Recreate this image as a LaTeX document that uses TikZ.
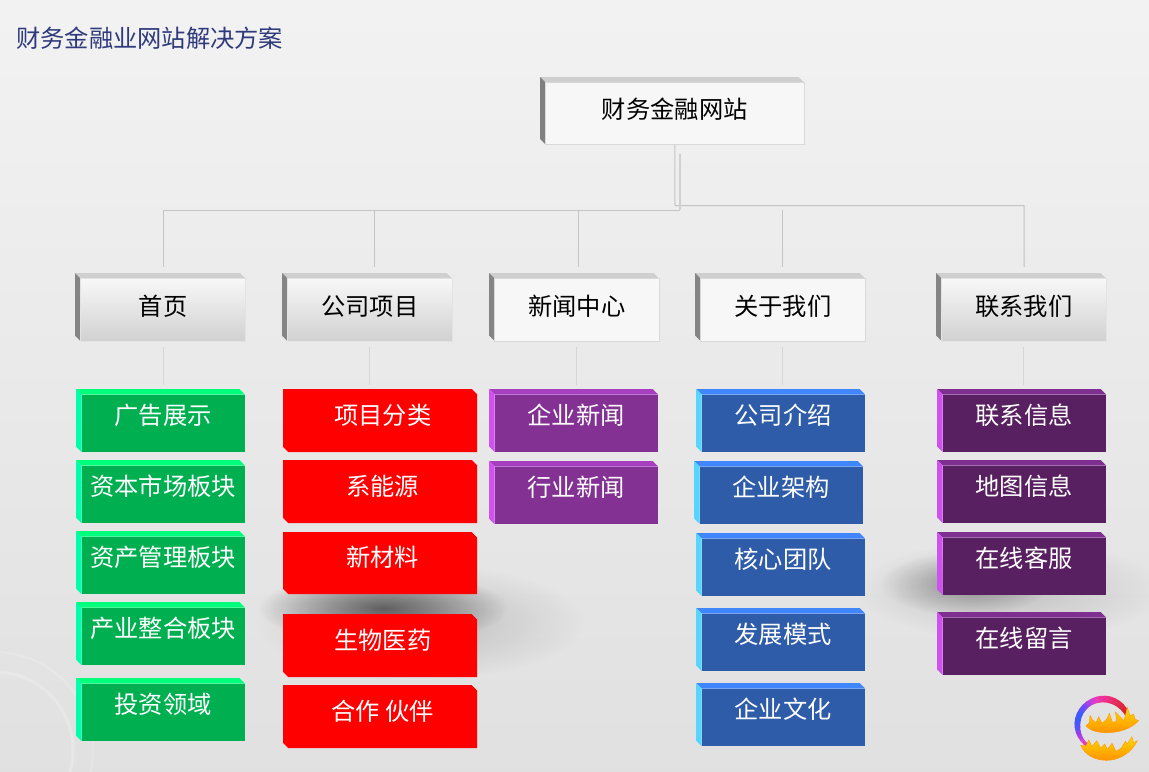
\documentclass[tikz,border=0pt]{standalone}
\usepackage{fontspec}
\setmainfont{Noto Sans CJK SC}
\usetikzlibrary{fadings}
\tikzfading[name=blob, inner color=transparent!0, outer color=transparent!100]
\definecolor{titlecol}{HTML}{2F3A7C}
\definecolor{linecol}{HTML}{C4C4C4}
\definecolor{stubcol}{HTML}{D6D6D6}
\definecolor{gF}{HTML}{00B050}\definecolor{gT}{HTML}{00FF7A}\definecolor{gL}{HTML}{00FFAA}
\definecolor{pF}{HTML}{833193}\definecolor{pT}{HTML}{A63FC0}\definecolor{pL}{HTML}{D050F0}
\definecolor{bF}{HTML}{2E5CA8}\definecolor{bT}{HTML}{3F86FF}\definecolor{bL}{HTML}{55D5FF}
\definecolor{dF}{HTML}{582060}\definecolor{dT}{HTML}{7F2F90}\definecolor{dL}{HTML}{D050F0}
\definecolor{fA}{HTML}{D8262E}\definecolor{fB}{HTML}{F0308C}\definecolor{fC}{HTML}{E040D0}
\definecolor{fD}{HTML}{9040F0}\definecolor{fE}{HTML}{3A5CFF}\definecolor{fF}{HTML}{4A70F0}
\tikzset{
  conn/.style={draw=linecol, line width=0.75pt},
  connthick/.style={draw=linecol!80, line width=1.1pt},
  stub/.style={draw=stubcol, line width=0.75pt},
  boxlabel/.style={font=\fontsize{18.2}{20}\selectfont, inner sep=0pt, outer sep=0pt},
  gface/.style={fill=gF},
  rface/.style={},
  pface/.style={fill=pF},
  bface/.style={fill=bF},
  dface/.style={fill=dF},
  greyflat/.style={fill=white!97!black, draw=black!15, line width=0.6pt},
  greygrad/.style={top color=white!97!black, bottom color=black!18, draw=black!11, line width=0.5pt},
  flame/.style={top color=yellow!70!orange, middle color=yellow!95!orange, bottom color=orange!85!yellow, draw=orange!80!yellow, line width=0.3pt},
}
\newcommand{\bevel}[9]{%
  \def\bvN{#1}\def\bvXa{#2}\def\bvYa{#3}\def\bvXb{#4}\def\bvYb{#5}%
  \def\bvFace{#6}\def\bvTop{#7}\def\bvLeft{#8}\def\bvTxt{#9}\bevelrest}
\newcommand{\bevelrest}[2]{%
  \pgfmathsetmacro{\bvD}{5.5}%
  \pgfmathsetmacro{\bvCx}{(\bvXa+\bvD+\bvXb)/2}%
  \pgfmathsetmacro{\bvCy}{(\bvYa+\bvD+\bvYb)/2}%
  \pgfmathsetmacro{\bvW}{(\bvXb-\bvXa-\bvD)*0.75}%
  \pgfmathsetmacro{\bvH}{(\bvYb-\bvYa-\bvD)*0.75}%
  \pgfmathsetmacro{\bvR}{#1*0.75}%
  \fill[\bvTop] (\bvXa,\bvYa) -- (\bvXb-\bvD,\bvYa) -- (\bvXb,\bvYa+\bvD) -- (\bvXa+\bvD,\bvYa+\bvD) -- cycle;
  \fill[\bvLeft] (\bvXa,\bvYa) -- (\bvXa+\bvD,\bvYa+\bvD) -- (\bvXa+\bvD,\bvYb) -- (\bvXa,\bvYb-\bvD) -- cycle;
  \node[boxlabel, minimum width=\bvW pt, minimum height=\bvH pt, text=\bvTxt, \bvFace] (\bvN) at (\bvCx,\bvCy) {\raisebox{\bvR pt}{#2}};
}
\begin{document}
\begin{tikzpicture}[x=0.75pt,y=-0.75pt]
\useasboundingbox (0,0) rectangle (1149,771);
% background
\shade[shading=axis, shading angle=135, top color=white!95!black, bottom color=white!88!black] (0,0) rectangle (1149,771);
\begin{scope}
\clip (0,0) rectangle (1149,771);
\draw[white, opacity=0.16, line width=1.6pt] (-5,750) circle [radius=98];
\draw[white, opacity=0.2, line width=2.4pt] (-5,750) circle [radius=78];
% soft shadows
\fill[black, opacity=0.52, path fading=blob] (383,608) ellipse [x radius=125, y radius=36];
\fill[black, opacity=0.17, path fading=blob] (420,622) ellipse [x radius=165, y radius=58];
\fill[black, opacity=0.3, path fading=blob] (965,584) ellipse [x radius=85, y radius=32];
\fill[black, opacity=0.15, path fading=blob] (1010,590) ellipse [x radius=155, y radius=50];
\end{scope}
% title
\node[font=\fontsize{18.2}{20}\selectfont, text=titlecol, inner sep=0pt, anchor=west] (title) at (16,38) {财务金融业网站解决方案};
% level 0 and 1
\bevel{root}{540}{77}{804}{144.5}{greyflat}{black!19}{black!50}{black}{11}{财务金融网站}
\bevel{aA}{75}{273}{245.5}{341}{greygrad}{black!19}{black!48}{black}{8}{首页}
\bevel{aB}{282}{273}{452}{341}{greygrad}{black!19}{black!48}{black}{8}{公司项目}
\bevel{aC}{489}{273}{659}{341}{greyflat}{black!19}{black!48}{black}{8}{新闻中心}
\bevel{aD}{695}{273}{865}{341}{greyflat}{black!19}{black!48}{black}{8}{关于我们}
\bevel{aE}{936}{273}{1106}{341}{greygrad}{black!19}{black!48}{black}{8}{联系我们}
% connector ends
\coordinate (rootb) at (680,154);
\coordinate (jA) at (680,210);
\coordinate (jB) at (675,205.5);
\coordinate (tA) at (163.5,267);
\coordinate (tB) at (374.5,267);
\coordinate (tC) at (578,267);
\coordinate (tD) at (782.5,267);
\coordinate (tE) at (1024,267);
\draw[conn] (root.south) -- (jB) -- (jB -| tE) -- (tE);
\draw[connthick] (rootb) -- (jA);
\draw[conn] (jA) -- (jA -| tA) -- (tA);
\draw[conn] (jA -| tB) -- (tB);
\draw[conn] (jA -| tC) -- (tC);
\draw[conn] (jA -| tD) -- (tD);
% green column
\bevel{gA}{76}{389}{245}{452}{gface}{gT}{gL}{white}{18}{广告展示}
\bevel{gB}{76}{460}{245}{523}{gface}{gT}{gL}{white}{18}{资本市场板块}
\bevel{gC}{76}{531}{245}{594}{gface}{gT}{gL}{white}{18}{资产管理板块}
\bevel{gD}{76}{602}{245}{665}{gface}{gT}{gL}{white}{18}{产业整合板块}
\bevel{gE}{76}{678}{245}{741}{gface}{gT}{gL}{white}{18}{投资领域}
% red column: one chamfered shape under each label
\foreach \ya/\yb in {389/452,460/523,532/594,614/677,685/748}{
  \fill[red] (283,\ya) -- (471.5,\ya) -- (477,\ya+5.5) -- (477,\yb) -- (288.5,\yb) -- (283,\yb-5.5) -- cycle;
}
\bevel{rA}{283}{389}{477}{452}{rface}{red}{red}{white}{18}{项目分类}
\bevel{rB}{283}{460}{477}{523}{rface}{red}{red}{white}{18}{系能源}
\bevel{rC}{283}{532}{477}{594}{rface}{red}{red}{white}{18}{新材料}
\bevel{rD}{283}{614}{477}{677}{rface}{red}{red}{white}{18}{生物医药}
\bevel{rE}{283}{685}{477}{748}{rface}{red}{red}{white}{18}{合作 伙伴}
% news column
\bevel{pA}{489}{389}{658}{452}{pface}{pT}{pL}{white}{18}{企业新闻}
\bevel{pB}{489}{461}{658}{524}{pface}{pT}{pL}{white}{18}{行业新闻}
% blue column
\bevel{bA}{696}{389}{865}{452}{bface}{bT}{bL}{white}{18}{公司介绍}
\bevel{bB}{694}{461}{863}{524}{bface}{bT}{bL}{white}{18}{企业架构}
\bevel{bC}{696}{533}{865}{596}{bface}{bT}{bL}{white}{18}{核心团队}
\bevel{bD}{696}{608}{865}{671}{bface}{bT}{bL}{white}{18}{发展模式}
\bevel{bE}{696}{683}{865}{746}{bface}{bT}{bL}{white}{18}{企业文化}
% dark purple column
\bevel{dA}{937}{389}{1106}{452}{dface}{dT}{dL}{white}{18}{联系信息}
\bevel{dB}{937}{460}{1106}{523}{dface}{dT}{dL}{white}{18}{地图信息}
\bevel{dC}{937}{532}{1106}{595}{dface}{dT}{dL}{white}{18}{在线客服}
\bevel{dD}{937}{612}{1106}{675}{dface}{dT}{dL}{white}{18}{在线留言}
% stubs
\foreach \n/\x in {A/163.5,B/369.5,C/576,D/782.5,E/1023.5}{
  \coordinate (sa\n) at (\x,347);
  \coordinate (sb\n) at (\x,385);
  \draw[stub] (sa\n) -- (sb\n);
}
% logo
\begin{scope}[shift={(1050,680)},x=0.25pt,y=-0.25pt]
  \foreach \a/\c/\w in {
    26/fA/3.6, 36/fA/4.2, 46/fA!80!fB/4.6, 56/fA!60!fB/4.8, 66/fA!40!fB/5,
    76/fA!20!fB/5, 86/fB/5, 96/fB!70!fC/4.8, 106/fB!30!fC/4.6, 116/fC!70!fD/4.4,
    126/fC!30!fD/4.4, 136/fD!70!fE/4.4, 146/fD!35!fE/4.4, 156/fE/4.4, 166/fE/4.4,
    176/fE!85!fD/4.2, 186/fE!60!fD/3.8, 196/fD/3.4, 206/fD!60!fC/3, 216/fC/2.6, 224/fC!60!fB/2.2}{
    \draw[line width=\w pt, \c, line cap=round] ({160+78*cos(\a)},{135-78*sin(\a)}) -- ({160+78*cos(\a+10)},{135-78*sin(\a+10)});
  }
  \shade[flame]
    (108,138) -- (118,128) -- (120,106) -- (128,120) -- (138,128) -- (146,110) -- (156,130)
    -- (170,118) -- (178,100) -- (188,128) -- (200,122) -- (196,96) -- (212,112) -- (222,122)
    -- (232,82) -- (240,108) -- (250,102) -- (256,118) -- (266,122)
    .. controls (240,150) and (200,158) .. (170,158) .. controls (140,158) and (118,150) .. (108,138) -- cycle;
  \shade[flame]
    (92,196) -- (108,198) -- (116,180) -- (126,200) -- (140,182) -- (152,204) -- (164,192)
    -- (172,208) -- (186,190) -- (198,214) -- (214,204) -- (226,184) -- (232,192) -- (246,170) -- (250,188) -- (262,182)
    .. controls (240,226) and (200,241) .. (170,241) .. controls (135,241) and (105,225) .. (92,196) -- cycle;
\end{scope}
\end{tikzpicture}
\end{document}
